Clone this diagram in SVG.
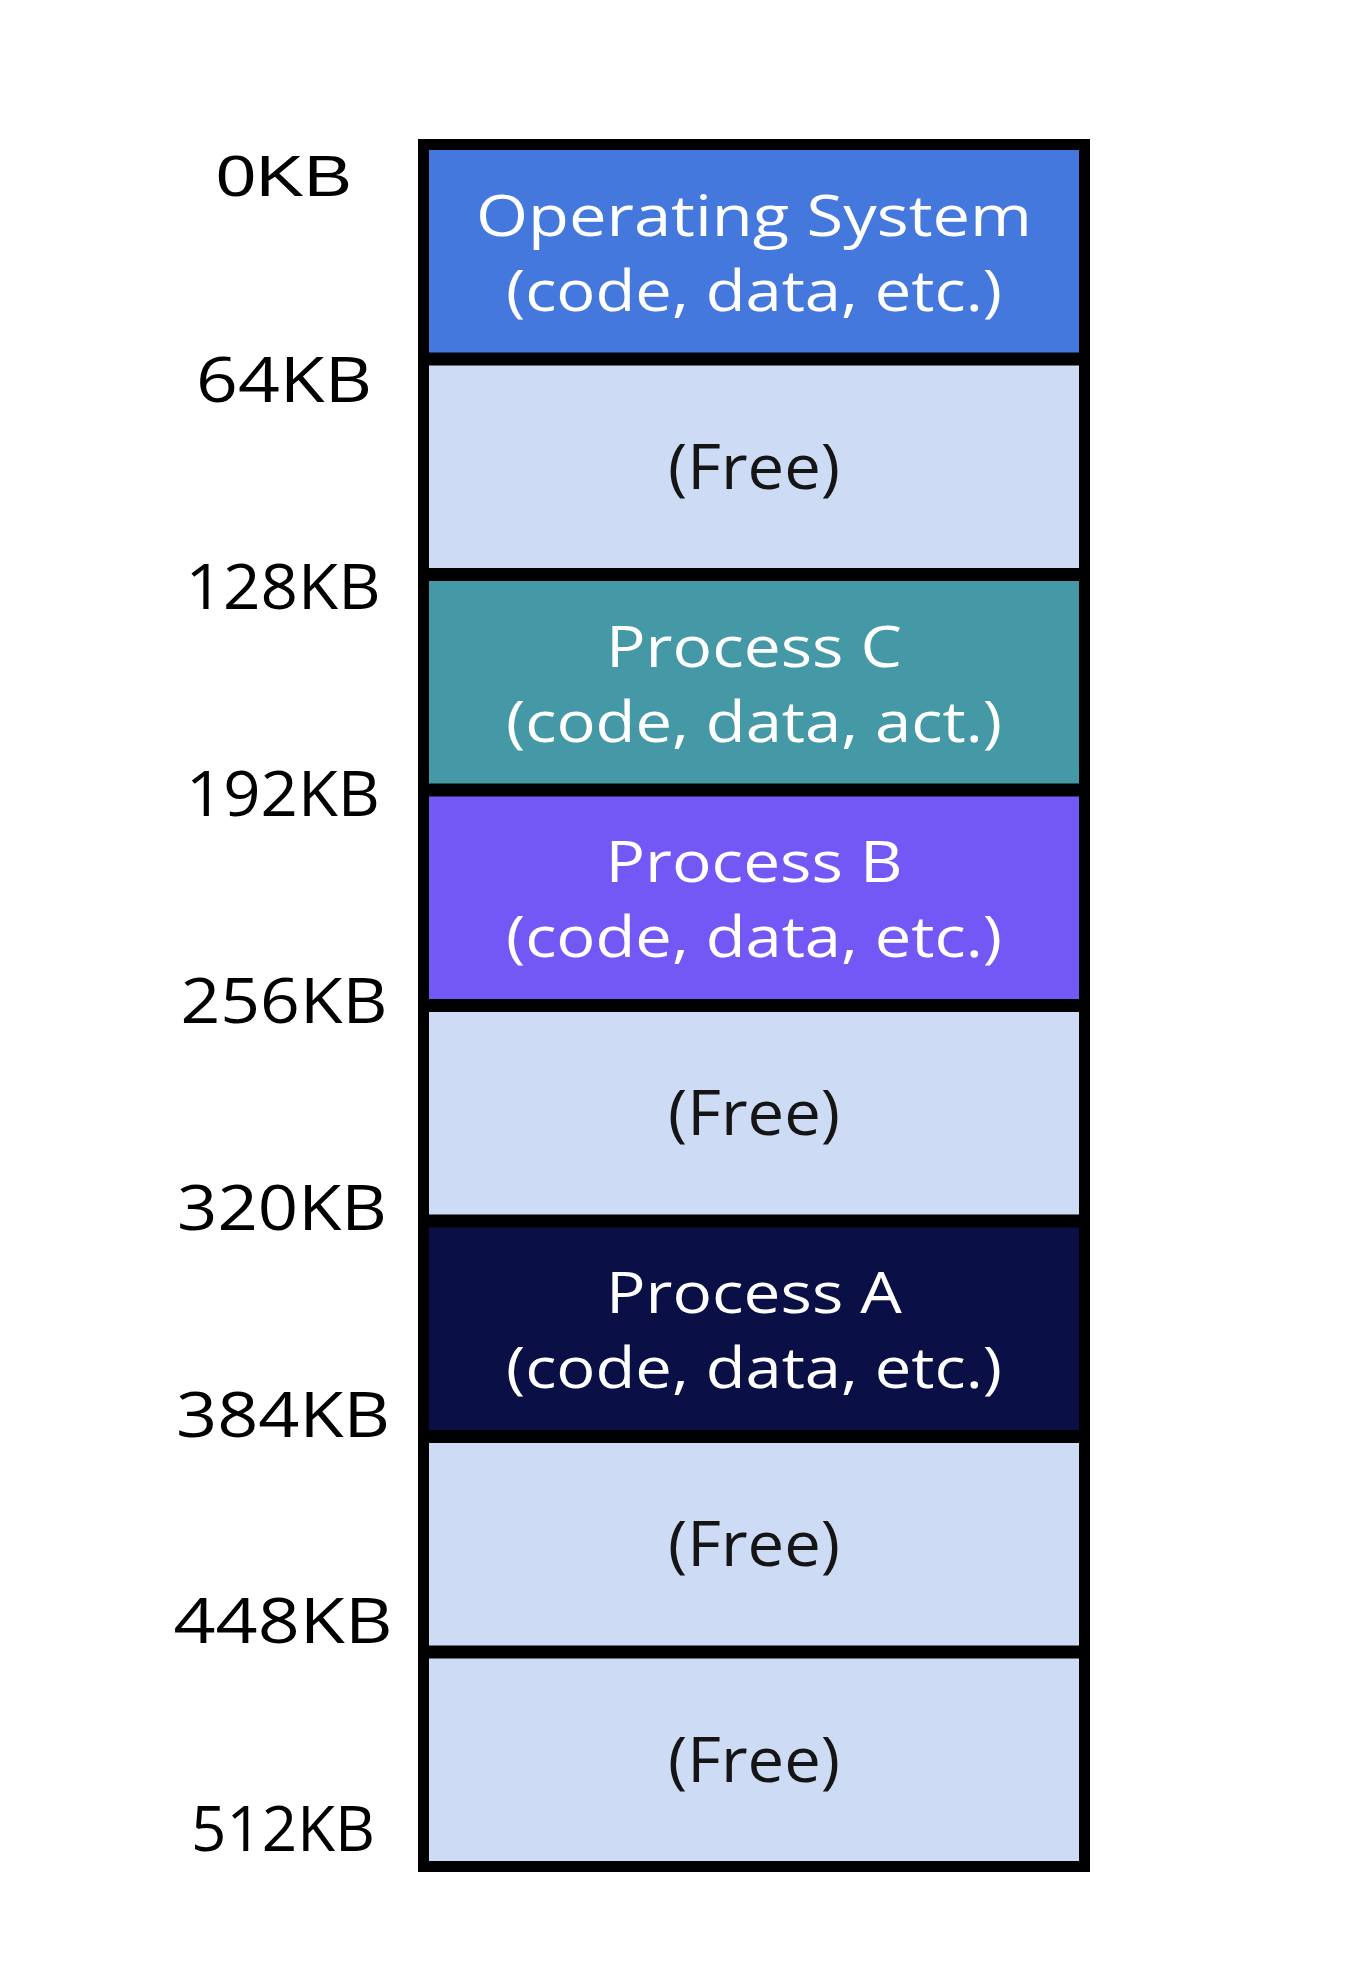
<svg xmlns="http://www.w3.org/2000/svg" width="1354" height="1962" viewBox="0 0 1354 1962">
<style>
.lbl{font-family:"Open Sans","Noto Sans",sans-serif;font-size:62px;fill:#000;text-anchor:middle}
.lbl0{font-family:"Liberation Sans",Arial,sans-serif;font-size:57px;fill:#000;text-anchor:middle}
.t{font-family:"Open Sans","Noto Sans",sans-serif;font-size:57px;text-anchor:middle}
.f{font-family:"Open Sans","Noto Sans",sans-serif;font-size:62px;text-anchor:middle}
.w{fill:#ffffff}
.k{fill:#151515}
.free{fill:#CDDBF5}
</style>
<rect x="418" y="139" width="672" height="1733" fill="#000"/>
<g id="os">
<rect x="429" y="150" width="650" height="202.5" fill="#4478DD"/>
<text class="t w" x="754" y="236" textLength="556" lengthAdjust="spacingAndGlyphs">Operating System</text>
<text class="t w" x="754" y="311" textLength="496" lengthAdjust="spacingAndGlyphs">(code, data, etc.)</text>
</g>
<g id="free1">
<rect class="free" x="429" y="365.5" width="650" height="202.5"/>
<text class="f k" x="754" y="489" textLength="172" lengthAdjust="spacingAndGlyphs">(Free)</text>
</g>
<g id="procC">
<rect x="429" y="581" width="650" height="202.5" fill="#4599A6"/>
<text class="t w" x="754" y="667" textLength="296" lengthAdjust="spacingAndGlyphs">Process C</text>
<text class="t w" x="754" y="742" textLength="496" lengthAdjust="spacingAndGlyphs">(code, data, act.)</text>
</g>
<g id="procB">
<rect x="429" y="796.5" width="650" height="202.5" fill="#7458F5"/>
<text class="t w" x="754" y="882" textLength="297" lengthAdjust="spacingAndGlyphs">Process B</text>
<text class="t w" x="754" y="957" textLength="496" lengthAdjust="spacingAndGlyphs">(code, data, etc.)</text>
</g>
<g id="free2">
<rect class="free" x="429" y="1012" width="650" height="202.5"/>
<text class="f k" x="754" y="1135" textLength="172" lengthAdjust="spacingAndGlyphs">(Free)</text>
</g>
<g id="procA">
<rect x="429" y="1227.5" width="650" height="202.5" fill="#0A1045"/>
<text class="t w" x="754" y="1313" textLength="296" lengthAdjust="spacingAndGlyphs">Process A</text>
<text class="t w" x="754" y="1388" textLength="496" lengthAdjust="spacingAndGlyphs">(code, data, etc.)</text>
</g>
<g id="free3">
<rect class="free" x="429" y="1443" width="650" height="202.5"/>
<text class="f k" x="754" y="1566" textLength="172" lengthAdjust="spacingAndGlyphs">(Free)</text>
</g>
<g id="free4">
<rect class="free" x="429" y="1658.5" width="650" height="202.5"/>
<text class="f k" x="754" y="1782" textLength="172" lengthAdjust="spacingAndGlyphs">(Free)</text>
</g>
<g id="labels">
<text class="lbl0" x="284" y="196" textLength="136" lengthAdjust="spacingAndGlyphs">0KB</text>
<text class="lbl" x="284" y="402" textLength="176" lengthAdjust="spacingAndGlyphs">64KB</text>
<text class="lbl" x="283" y="609" textLength="195" lengthAdjust="spacingAndGlyphs">128KB</text>
<text class="lbl" x="283" y="816" textLength="194" lengthAdjust="spacingAndGlyphs">192KB</text>
<text class="lbl" x="284" y="1023" textLength="207" lengthAdjust="spacingAndGlyphs">256KB</text>
<text class="lbl" x="282" y="1230" textLength="210" lengthAdjust="spacingAndGlyphs">320KB</text>
<text class="lbl" x="283" y="1437" textLength="214" lengthAdjust="spacingAndGlyphs">384KB</text>
<text class="lbl" x="283" y="1643" textLength="219" lengthAdjust="spacingAndGlyphs">448KB</text>
<text class="lbl" x="283" y="1851" textLength="184" lengthAdjust="spacingAndGlyphs">512KB</text>
</g>
<g id="connectors"/>
</svg>
